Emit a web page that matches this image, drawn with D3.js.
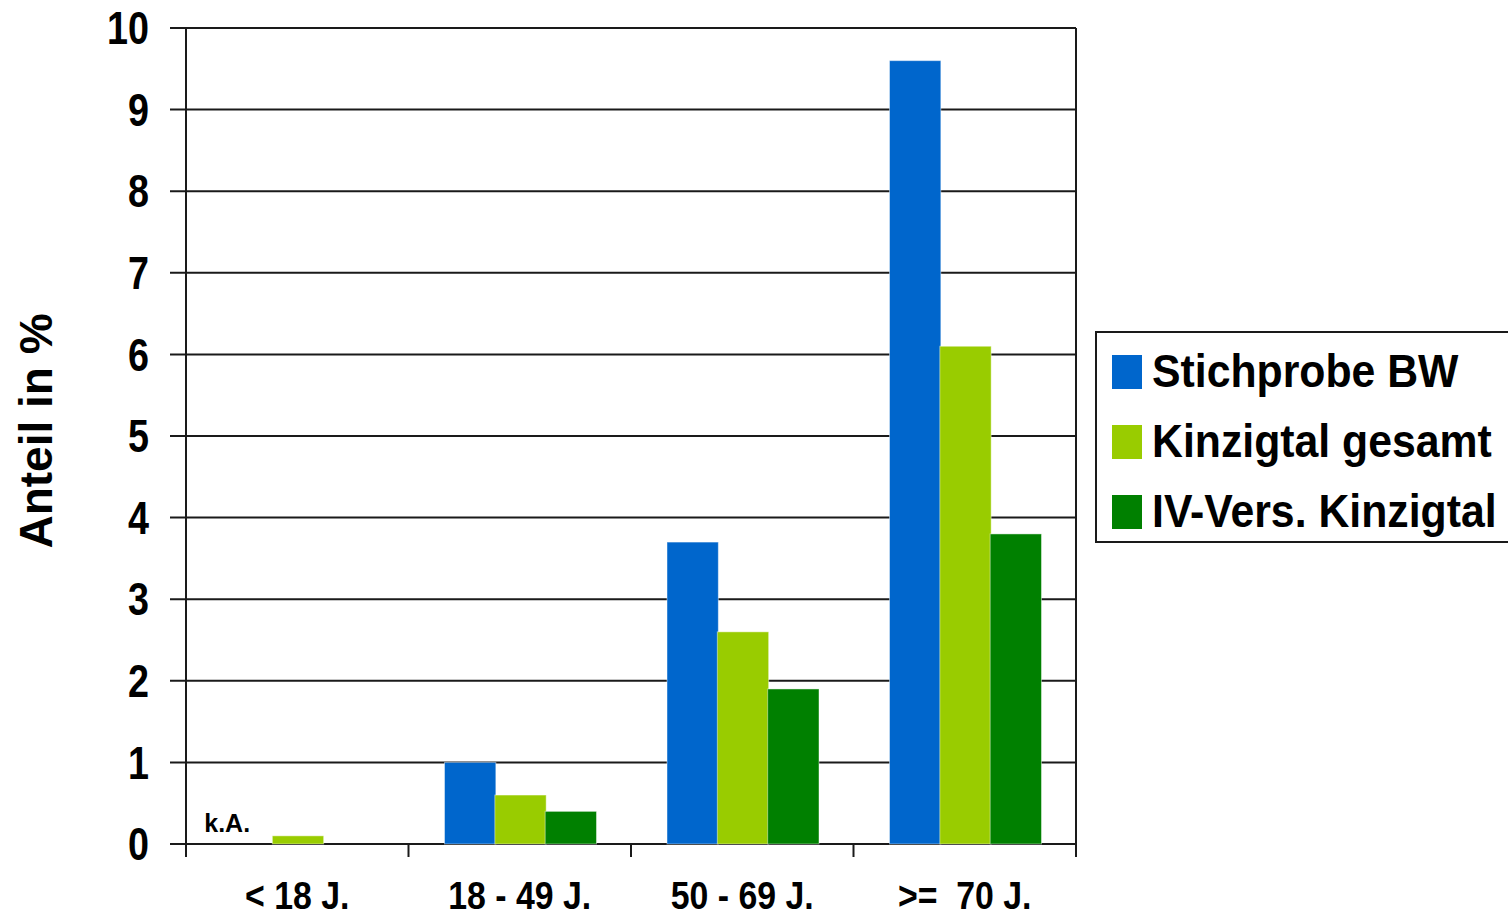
<!DOCTYPE html>
<html>
<head>
<meta charset="utf-8">
<script src="https://cdn.jsdelivr.net/npm/d3@7"></script>
<style>
  html, body { margin: 0; padding: 0; background: #fff; }
  svg { display: block; }
  text { font-family: "Liberation Sans", Arial, sans-serif; font-weight: bold; fill: #000; }
</style>
</head>
<body>
<svg id="chart" width="1508" height="918"></svg>
<script>
// Age groups on the x axis
const categories = ["< 18 J.", "18 - 49 J.", "50 - 69 J.", ">=  70 J."];
// Series (share in %); null = no data ("k.A.")
const seriesNames = ["Stichprobe BW", "Kinzigtal gesamt", "IV-Vers. Kinzigtal"];
const stichprobeBW = [null, 1.0, 3.7, 9.6];
const kinzigtalGesamt = [0.1, 0.6, 2.6, 6.1];
const ivVersKinzigtal = [null, 0.4, 1.9, 3.8];
const seriesColors = ["#0066CC", "#99CC00", "#008000"];
const yTicks = [0, 1, 2, 3, 4, 5, 6, 7, 8, 9, 10];
const yTitle = "Anteil in %";
const noDataLabel = "k.A.";

const seriesValues = [stichprobeBW, kinzigtalGesamt, ivVersKinzigtal];

const svg = d3.select("#chart");
const plot = { left: 186, right: 1076, top: 28, bottom: 844 };

const x = d3.scaleBand().domain(categories).range([plot.left, plot.right]).padding(0);
const xSub = d3.scaleBand().domain(seriesNames).range([36, 187]).padding(0);
const y = d3.scaleLinear().domain([0, 10]).range([plot.bottom, plot.top]);

const lineColor = "#1a1a1a";

// horizontal gridlines with short outer ticks
const grid = svg.append("g");
grid.selectAll("line").data(yTicks).join("line")
  .attr("x1", plot.left - 16).attr("x2", plot.right)
  .attr("y1", d => y(d)).attr("y2", d => y(d))
  .attr("stroke", lineColor).attr("stroke-width", 2);

// bars
const groups = svg.append("g").selectAll("g").data(categories).join("g")
  .attr("transform", d => `translate(${x(d)},0)`);
groups.selectAll("rect")
  .data((c, i) => seriesNames.map((s, j) => ({ s, v: seriesValues[j][i], color: seriesColors[j] })))
  .join("rect")
  .filter(d => d.v !== null)
  .attr("x", d => xSub(d.s))
  .attr("width", xSub.bandwidth() + 1)
  .attr("y", d => y(d.v))
  .attr("height", d => y(0) - y(d.v))
  .attr("fill", d => d.color)
  .attr("stroke", "rgba(255,255,255,0.45)")
  .attr("stroke-width", 1);

// "k.A." marker where the first series has no value
categories.forEach((c, i) => {
  if (stichprobeBW[i] === null) {
    svg.append("text")
      .attr("x", x(c) + xSub(seriesNames[0]) + xSub.bandwidth() / 2 - 20)
      .attr("y", y(0) - 12)
      .attr("text-anchor", "middle")
      .attr("font-size", 25)
      .text(noDataLabel);
  }
});

// plot frame: left axis, right border, bottom axis
svg.append("line").attr("x1", plot.left).attr("x2", plot.left)
  .attr("y1", plot.top).attr("y2", plot.bottom + 13)
  .attr("stroke", lineColor).attr("stroke-width", 2);
svg.append("line").attr("x1", plot.right).attr("x2", plot.right)
  .attr("y1", plot.top).attr("y2", plot.bottom + 13)
  .attr("stroke", lineColor).attr("stroke-width", 2);
// category boundary ticks below the axis
svg.append("g").selectAll("line").data(categories.slice(1)).join("line")
  .attr("x1", d => x(d)).attr("x2", d => x(d))
  .attr("y1", plot.bottom).attr("y2", plot.bottom + 13)
  .attr("stroke", lineColor).attr("stroke-width", 2);

// y tick labels
svg.append("g").selectAll("g").data(yTicks).join("g")
  .attr("transform", d => `translate(149,${y(d)})`)
  .append("text")
  .attr("transform", "scale(0.82,1)")
  .attr("text-anchor", "end")
  .attr("dy", "0.35em")
  .attr("font-size", 46)
  .text(d => d);

// x category labels
svg.append("g").selectAll("g").data(categories).join("g")
  .attr("transform", d => `translate(${x(d) + x.bandwidth() / 2},909)`)
  .append("text")
  .attr("transform", "scale(0.89,1)")
  .attr("text-anchor", "middle")
  .attr("font-size", 38)
  .style("white-space", "pre")
  .text(d => d);

// y axis title
svg.append("text")
  .attr("transform", "translate(52,431) rotate(-90)")
  .attr("text-anchor", "middle")
  .attr("font-size", 46)
  .text(yTitle);

// legend
const legend = svg.append("g").attr("transform", "translate(1096,332)");
legend.append("rect")
  .attr("x", 0).attr("y", 0).attr("width", 440).attr("height", 210)
  .attr("fill", "#fff").attr("stroke", lineColor).attr("stroke-width", 2);
const items = legend.selectAll("g.item").data(seriesNames).join("g")
  .attr("class", "item")
  .attr("transform", (d, i) => `translate(0,${i * 70})`);
items.append("rect")
  .attr("x", 16).attr("y", 23).attr("width", 30).attr("height", 34)
  .attr("fill", (d, i) => seriesColors[i]);
items.append("g").attr("transform", "translate(56,55)")
  .append("text")
  .attr("transform", "scale(0.91,1)")
  .attr("font-size", 47)
  .text(d => d);
</script>
</body>
</html>
